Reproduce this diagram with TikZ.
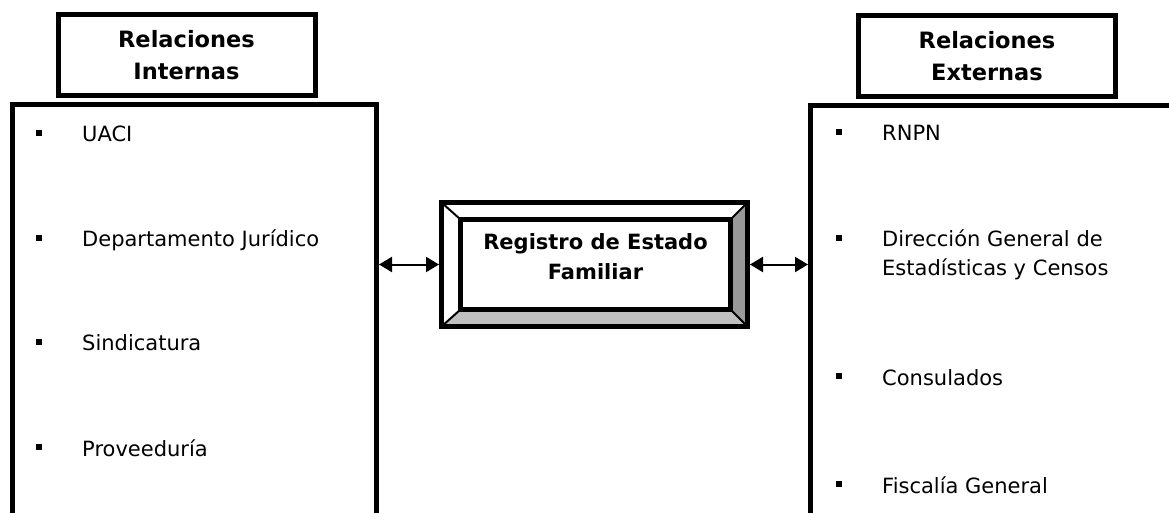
\documentclass[tikz,border=0pt]{standalone}
\usepackage{fontspec}
\setmainfont{DejaVu Sans}
\usetikzlibrary{arrows.meta,backgrounds}
\definecolor{bevdark}{HTML}{999999}
\definecolor{bevlight}{HTML}{C0C0C0}

\begin{document}
\begin{tikzpicture}[x=1pt,y=-1pt,
	frame/.style={draw,line width=5pt,outer sep=0pt,inner sep=0pt},
	head/.style={frame,minimum width=257pt,minimum height=81pt,align=center,font=\fontsize{22.5}{32}\selectfont\bfseries},
	item/.style={anchor=base west,align=left,inner sep=0pt,font=\fontsize{21}{29}\selectfont},
	sqbullet/.style={fill=black,minimum size=6pt,inner sep=0pt},
	link/.style={{Triangle[length=13pt,width=15pt]}-{Triangle[length=13pt,width=15pt]},line width=2pt,shorten <=2.5pt,shorten >=2.5pt}]
	\useasboundingbox (0,0) rectangle (1169,512);
	\clip (0,0) rectangle (1169,512);

	\node[head] (inthead) at (186.5,55) {Relaciones\\Internas};
	\node[head] (exthead) at (987,56) {Relaciones\\Externas};
	\node[frame,anchor=north,minimum width=364pt,minimum height=480pt] (intbox) at (194.5,104) {};
	\node[frame,anchor=north west,minimum width=420pt,minimum height=480pt] (extbox) at (810.5,105) {};

	\node[frame,minimum width=306pt,minimum height=124pt] (reg) at (594.5,264.5) {};
	\node[frame,minimum width=270pt,minimum height=90pt] (regin) at (595.5,264.5) {};
	\node[font=\fontsize{21}{30}\selectfont\bfseries,align=center] (regtxt) at ([yshift=7.5pt]regin.center) {Registro de Estado\\Familiar};
	\begin{scope}[on background layer]
		\fill[bevdark] (reg.north east) -- (reg.south east) -- (regin.south east) -- (regin.north east) -- cycle;
		\fill[bevlight] (reg.south west) -- (reg.south east) -- (regin.south east) -- (regin.south west) -- cycle;
	\end{scope}
	\foreach \c in {north west,north east,south west,south east}
		\draw[line width=2pt] (reg.\c) -- (regin.\c);

	\node[item] (uaci) at (82,141.7) {UACI};
	\node[item] (juridico) at (82,246.5) {Departamento Jurídico};
	\node[item] (sindic) at (82,350.7) {Sindicatura};
	\node[item] (prov) at (82,456) {Proveeduría};
	\node[item] (rnpn) at (882,140.7) {RNPN};
	\node[item] (digestyc) at (882,275.7) {Dirección General de\\Estadísticas y Censos};
	\node[item] (consul) at (882,385) {Consulados};
	\node[item] (fiscal) at (882,493.3) {Fiscalía General};
	\foreach \n in {uaci,juridico,sindic,prov,rnpn,consul,fiscal}
		\node[sqbullet] (b-\n) at ([shift={(-43.5,-9)}]\n.base west) {};
	\node[sqbullet] (b-digestyc) at ([shift={(-43.5,-38)}]digestyc.base west) {};

	\draw[link] (intbox.east |- reg.west) -- (reg.west);
	\draw[link] (reg.east) -- (extbox.west |- reg.east);
\end{tikzpicture}
\end{document}
